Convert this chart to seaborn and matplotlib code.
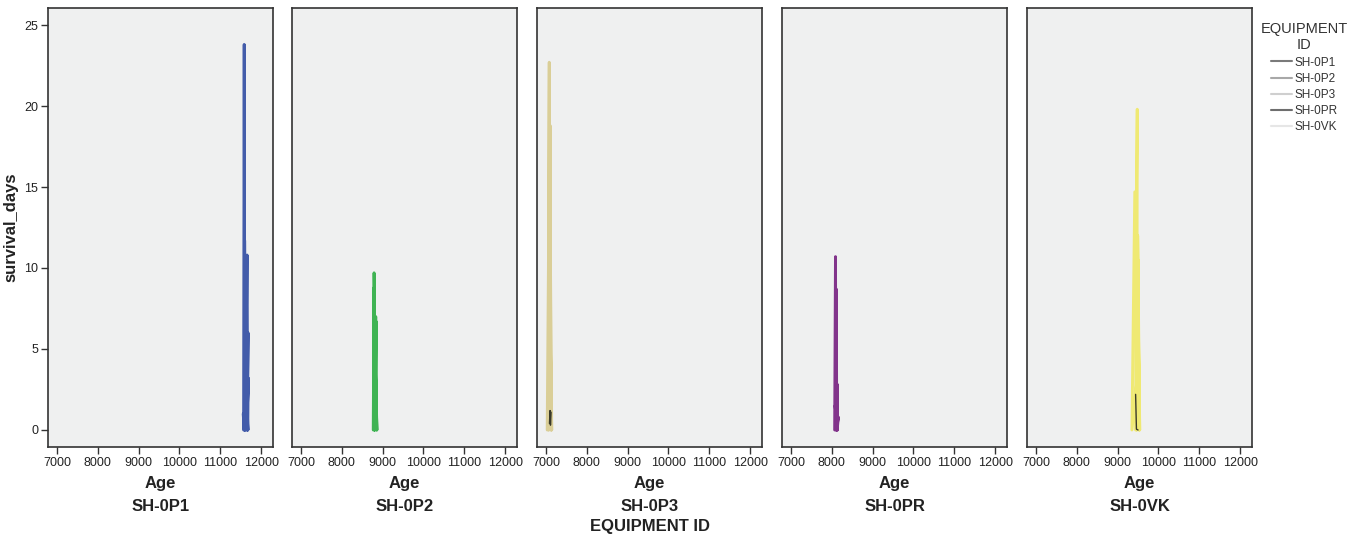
import matplotlib
matplotlib.use("Agg")
import matplotlib.pyplot as plt
import seaborn as sns
import pandas as pd

sns.set_theme(style="white")
plt.rcParams['font.family'] = ['Liberation Sans', 'DejaVu Sans']

equipment = ["SH-0P1", "SH-0P2", "SH-0P3", "SH-0PR", "SH-0VK"]
colors = ["#3a54a6", "#35b04a", "#d9cd92", "#7c2a86", "#efe96c"]
legend_grays = ["#7a7a7a", "#a8a8a8", "#cfcfcf", "#6e6e6e", "#e6e6e6"]

age_0p1 = [11570, 11585, 11600, 11595, 11615, 11630, 11610, 11655, 11670, 11630, 11655, 11680, 11660, 11690, 11640, 11620, 11600, 11650, 11675, 11630, 11590, 11560]
surv_0p1 = [0, 23.8, 0, 11.7, 0.2, 9.6, 0, 10.8, 0, 7.5, 0.5, 6.0, 0, 3.2, 0, 1.5, 0, 5.0, 0, 2.0, 0, 1.0]

age_0p2 = [8770, 8790, 8800, 8790, 8820, 8830, 8810, 8840, 8850, 8820, 8860, 8835, 8800, 8780]
surv_0p2 = [0, 8.8, 0, 9.7, 0.3, 7.0, 0, 6.7, 0, 4.0, 0, 2.0, 0, 0.8]

age_0p3 = [7030, 7060, 7080, 7070, 7100, 7120, 7090, 7140, 7110, 7060, 7080, 7130, 7050]
surv_0p3 = [0, 10.0, 22.7, 0, 18.8, 0, 16.7, 0, 5.0, 0, 8.0, 0, 2.0]
age_0p3_dark = [7085, 7100, 7110, 7125]
surv_0p3_dark = [0.4, 1.2, 0.3, 1.1]

age_0pr = [8070, 8090, 8100, 8110, 8120, 8140, 8130, 8160, 8110, 8090, 8140, 8080]
surv_0pr = [0, 10.7, 0, 8.7, 0, 2.8, 0, 0.8, 0, 4.0, 0, 1.5]

age_0vk = [9440, 9460, 9480, 9470, 9500, 9520, 9490, 9540, 9510, 9460, 9500, 9530, 9470, 9350, 9420]
surv_0vk = [0, 14.7, 19.8, 0, 10.5, 0, 12.0, 0, 6.0, 0, 8.0, 0, 3.0, 0, 14.7]
age_0vk_dark = [9440, 9460, 9500]
surv_0vk_dark = [2.2, 0.05, 0.0]

ages = [age_0p1, age_0p2, age_0p3, age_0pr, age_0vk]
survs = [surv_0p1, surv_0p2, surv_0p3, surv_0pr, surv_0vk]
dark_ages = {2: age_0p3_dark, 4: age_0vk_dark}
dark_survs = {2: surv_0p3_dark, 4: surv_0vk_dark}

x_ticks = [7000, 8000, 9000, 10000, 11000, 12000]
y_ticks = [0, 5, 10, 15, 20, 25]

frames = []
for eq, a, s in zip(equipment, ages, survs):
    frames.append(pd.DataFrame({"EQUIPMENT ID": eq, "Age": a, "survival_days": s,
                                "order": range(len(a))}))
df = pd.concat(frames, ignore_index=True)

fig = plt.figure(figsize=(13.65, 5.4), dpi=100)
W, H = 1365, 540
lefts = [48, 292, 537, 782, 1027]
pw = 225
top, bottom = 8, 447
axes = []
for i, eq in enumerate(equipment):
    ax = fig.add_axes([lefts[i] / W, (H - bottom) / H, pw / W, (bottom - top) / H])
    axes.append(ax)
    sub = df[df["EQUIPMENT ID"] == eq]
    sns.lineplot(data=sub, x="Age", y="survival_days", sort=False, estimator=None,
                 color=colors[i], lw=2.1, ax=ax, legend=False, alpha=0.95)
    if i in dark_ages:
        sns.lineplot(x=dark_ages[i], y=dark_survs[i], sort=False, estimator=None,
                     color="#3a3a2a", lw=1.0, ax=ax, legend=False)
    ax.set_facecolor("#eff0f0")
    ax.set_xlim(6780, 12290)
    ax.set_ylim(-1.05, 26.05)
    ax.set_xticks(x_ticks)
    ax.set_xticklabels([str(t) for t in x_ticks], fontsize=9, color="#222222")
    for sp in ax.spines.values():
        sp.set_color("#333333")
        sp.set_linewidth(1.2)
    ax.tick_params(axis="x", bottom=True, direction="out", length=5, width=1,
                   color="#333333", pad=2)
    ax.set_xlabel("Age\n" + eq, fontsize=12, fontweight="bold", color="#222222",
                  linespacing=1.7, labelpad=5)
    if i == 0:
        ax.set_yticks(y_ticks)
        ax.set_yticklabels([str(t) for t in y_ticks], fontsize=9, color="#222222")
        ax.tick_params(axis="y", left=True, direction="out", length=5, width=1,
                       color="#333333", pad=2)
        ax.set_ylabel("survival_days", fontsize=12, fontweight="bold", color="#222222", labelpad=4)
    else:
        ax.set_yticks([])
        ax.set_ylabel("")

fig.text(650 / W, 1 - 527 / H, "EQUIPMENT ID", ha="center", va="center",
         fontsize=12, fontweight="bold", color="#222222")

handles = [plt.Line2D([], [], color=g, lw=1.5) for g in legend_grays]
leg = fig.legend(handles, equipment, title="EQUIPMENT\nID", loc="upper left",
                 bbox_to_anchor=(1252 / W, 1 - 14 / H), frameon=False, fontsize=8.5,
                 title_fontsize=10.5, handlelength=1.8, handletextpad=0.2,
                 labelspacing=0.35, borderpad=0.2)
leg.get_title().set_multialignment("center")
for t in leg.get_texts():
    t.set_color("#333333")
leg.get_title().set_color("#333333")

fig.savefig("out.png", dpi=100)
